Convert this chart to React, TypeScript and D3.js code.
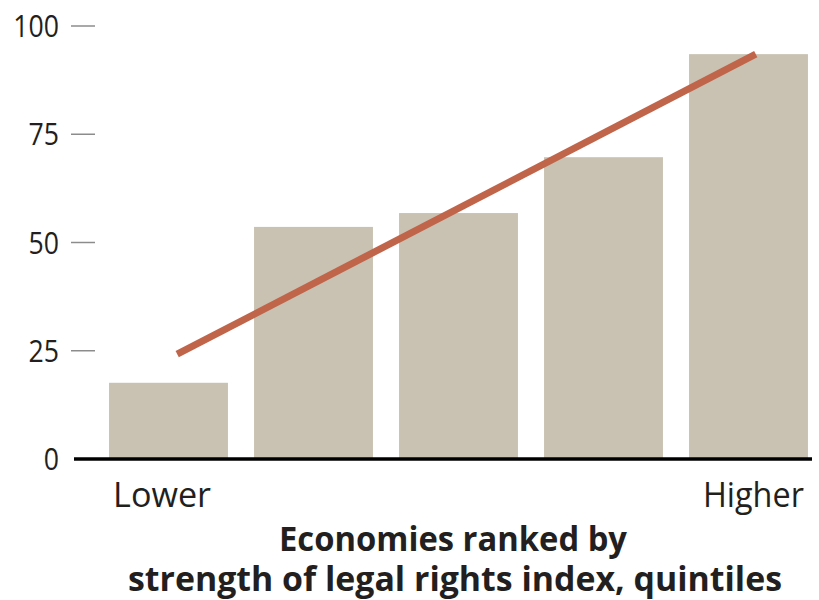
import React from "react";
import * as d3 from "d3";

const categories = ["Q1", "Q2", "Q3", "Q4", "Q5"];
const barValues = [17.6, 53.6, 56.8, 69.7, 93.5];
const trendPos = [0.06, 4.05];
const trendValues = [24.2, 93.5];
const yTicks = [0, 25, 50, 75, 100];
const endLabels = ["Lower", "Higher"];
const titleLines = ["Economies ranked by", "strength of legal rights index, quintiles"];

const W = 819;
const H = 600;
const FONT = "'Open Sans', 'Noto Sans', sans-serif";
const TEXT = "#231f20";

export default function App() {
  const y = d3.scaleLinear().domain([0, 100]).range([459, 26]);
  const x = d3
    .scaleBand<string>()
    .domain(categories)
    .range([96, 821])
    .paddingInner(0.18)
    .paddingOuter(0.09);
  const bw = x.bandwidth();
  const step = x.step();
  const c0 = (x(categories[0]) as number) + bw / 2;
  const xPos = d3.scaleLinear().domain([0, 1]).range([c0, c0 + step]);
  const trend = trendPos.map((p, i) => [xPos(p), y(trendValues[i])] as [number, number]);
  const line = d3.line();

  const firstLeft = x(categories[0]) as number;
  const lastRight = (x(categories[categories.length - 1]) as number) + bw;
  const titleCx = 453;

  return (
    <svg
      width={W}
      height={H}
      style={{ position: "absolute", left: 0, top: 0, background: "#fff" }}
    >
      {categories.map((c, i) => (
        <rect
          key={c}
          x={x(c)}
          y={y(barValues[i])}
          width={bw}
          height={y(0) - y(barValues[i])}
          fill="#c9c2b2"
        />
      ))}
      {yTicks
        .filter((t) => t !== 0)
        .map((t) => (
          <line
            key={t}
            x1={71}
            x2={95}
            y1={y(t)}
            y2={y(t)}
            stroke="#8c8c8c"
            strokeWidth={1.5}
          />
        ))}
      <line x1={74} x2={812} y1={y(0)} y2={y(0)} stroke="#000" strokeWidth={3.5} />
      {yTicks.map((t) => (
        <g key={"l" + t} transform={`translate(59,${y(t)}) scale(0.86,1)`}>
          <text
            x={0}
            y={0}
            dy="0.36em"
            textAnchor="end"
            fontFamily={FONT}
            fontSize={31}
            fill={TEXT}
          >
            {t}
          </text>
        </g>
      ))}
      <path d={line(trend) || ""} stroke="#c0644a" strokeWidth={7} fill="none" />
      <text
        x={firstLeft + 4}
        y={507}
        fontFamily={FONT}
        fontSize={34}
        fill={TEXT}
        textLength={98}
        lengthAdjust="spacingAndGlyphs"
      >
        {endLabels[0]}
      </text>
      <text
        x={lastRight - 4}
        y={507}
        textAnchor="end"
        fontFamily={FONT}
        fontSize={34}
        fill={TEXT}
        textLength={101}
        lengthAdjust="spacingAndGlyphs"
      >
        {endLabels[1]}
      </text>
      <text
        x={titleCx - 174}
        y={551}
        fontFamily={FONT}
        fontWeight="bold"
        fontSize={34}
        fill={TEXT}
        textLength={348}
        lengthAdjust="spacingAndGlyphs"
      >
        {titleLines[0]}
      </text>
      <text
        x={128}
        y={591}
        fontFamily={FONT}
        fontWeight="bold"
        fontSize={34}
        fill={TEXT}
        textLength={654}
        lengthAdjust="spacingAndGlyphs"
      >
        {titleLines[1]}
      </text>
    </svg>
  );
}
